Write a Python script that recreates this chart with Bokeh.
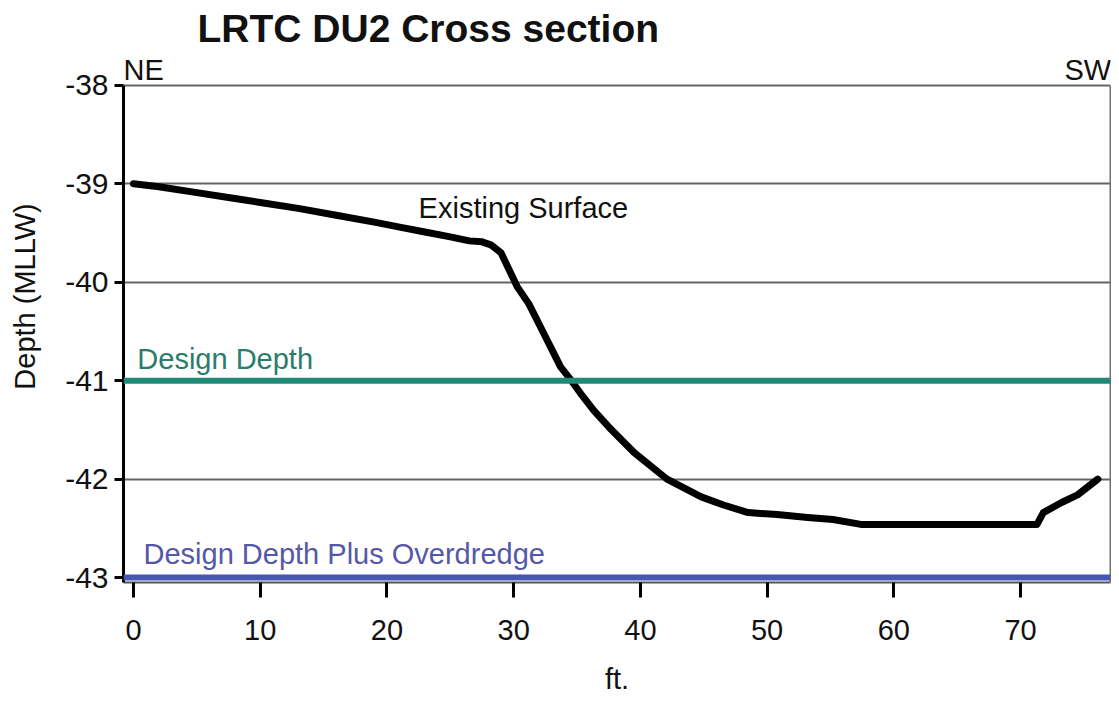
from bokeh.plotting import figure
from bokeh.models import Range1d, Label, Span, FixedTicker, LinearAxis
from bokeh.embed import file_html
from bokeh.resources import INLINE

# ---- data ----
dist = [0, 2, 5, 8, 10, 13, 16, 19, 21, 23, 25, 26.5, 27.5, 28.2, 29.0, 30.3, 31.2,
        32.1, 33.0, 33.7, 34.5, 35.4, 36.3, 37.5, 39.5, 42.1, 44.8, 46.5, 48.5, 50.8,
        53.2, 55.2, 57.4, 60, 65, 71.3, 71.8, 73.2, 74.5, 76.1]
depth = [-39.0, -39.03, -39.09, -39.15, -39.19, -39.25, -39.32, -39.39, -39.44, -39.49,
         -39.54, -39.58, -39.59, -39.62, -39.70, -40.05, -40.22, -40.45, -40.68, -40.86,
         -40.99, -41.15, -41.30, -41.47, -41.73, -42.0, -42.18, -42.26, -42.34, -42.36,
         -42.39, -42.41, -42.46, -42.46, -42.46, -42.46, -42.34, -42.24, -42.16, -42.0]
design_depth = -41.0
overdredge_depth = -43.0
x_ticks = [0, 10, 20, 30, 40, 50, 60, 70]
y_ticks = [-38, -39, -40, -41, -42, -43]
y_tick_labels = {t: str(t) for t in y_ticks}

FONT = "Liberation Sans"

p = figure(width=1111, height=697, x_range=Range1d(-0.79, 77.1),
           y_range=Range1d(-43.05, -37.24), output_backend="svg",
           toolbar_location=None, min_border_left=123, min_border_right=1,
           min_border_top=10, min_border_bottom=100)
p.background_fill_color = "white"
p.border_fill_color = "white"
p.outline_line_color = None

# grid
p.xgrid.visible = False
p.ygrid.ticker = FixedTicker(ticks=y_ticks)
p.ygrid.grid_line_color = "#656565"
p.ygrid.grid_line_width = 2

# axes
p.yaxis.ticker = FixedTicker(ticks=y_ticks)
p.yaxis.major_label_overrides = y_tick_labels
p.xaxis.ticker = FixedTicker(ticks=x_ticks)
for ax in (p.xaxis[0], p.yaxis[0]):
    ax.minor_tick_line_color = None
    ax.major_tick_in = 0
    ax.major_tick_line_color = "black"
    ax.major_tick_line_width = 3
    ax.major_label_text_font = FONT
    ax.major_label_text_font_size = "29px"
    ax.major_label_text_color = "#111111"
    ax.axis_label_text_font = FONT
    ax.axis_label_text_font_style = "normal"
    ax.axis_label_text_font_size = "29px"
    ax.axis_label_text_color = "#111111"
p.yaxis.bounds = (-43.05, -38.0)
p.yaxis.axis_line_color = "black"
p.yaxis.axis_line_width = 3
p.yaxis.major_tick_out = 9
p.yaxis.major_label_standoff = 6
p.yaxis.major_label_text_font_size = "30px"
p.yaxis.axis_label = "Depth (MLLW)"
p.yaxis.axis_label_standoff = 21
p.xaxis.axis_line_color = "#555555"
p.xaxis.axis_line_width = 2
p.xaxis.major_tick_out = 15
p.xaxis.major_label_standoff = 22
p.xaxis.axis_label = "ft."
p.xaxis.axis_label_standoff = 20

# right border as a bare axis
right = LinearAxis(ticker=FixedTicker(ticks=[]), bounds=(-43.05, -38.0),
                   axis_line_color="#707070", axis_line_width=2,
                   major_tick_line_color=None, minor_tick_line_color=None,
                   major_label_standoff=0, major_tick_out=0)
p.add_layout(right, "right")

# reference lines
p.add_layout(Span(location=design_depth, dimension="width", line_color="#1f8a78", line_width=6))
p.add_layout(Span(location=overdredge_depth, dimension="width", line_color="#4656b2", line_width=6))

# existing surface
p.line(dist, depth, line_color="black", line_width=7, line_join="round", line_cap="round")

def lab(x, y, text, size, color="#111111", align="left", baseline="alphabetic", style="normal"):
    p.add_layout(Label(x=x, y=y, text=text, text_font=FONT, text_font_size=size,
                       text_color=color, text_align=align, text_baseline=baseline,
                       text_font_style=style))

lab(5.05, -37.42, "LRTC DU2 Cross section", "39px", style="bold")
lab(-0.79, -37.84, "NE", "29px")
lab(77.15, -37.84, "SW", "29px", align="right")
lab(22.5, -39.25, "Existing Surface", "29px")
lab(0.3, -40.78, "Design Depth", "29px", color="#2a7d6c")
lab(0.79, -42.76, "Design Depth Plus Overdredge", "29px", color="#5558a8")

open("out.html", "w").write(file_html(p, INLINE))
